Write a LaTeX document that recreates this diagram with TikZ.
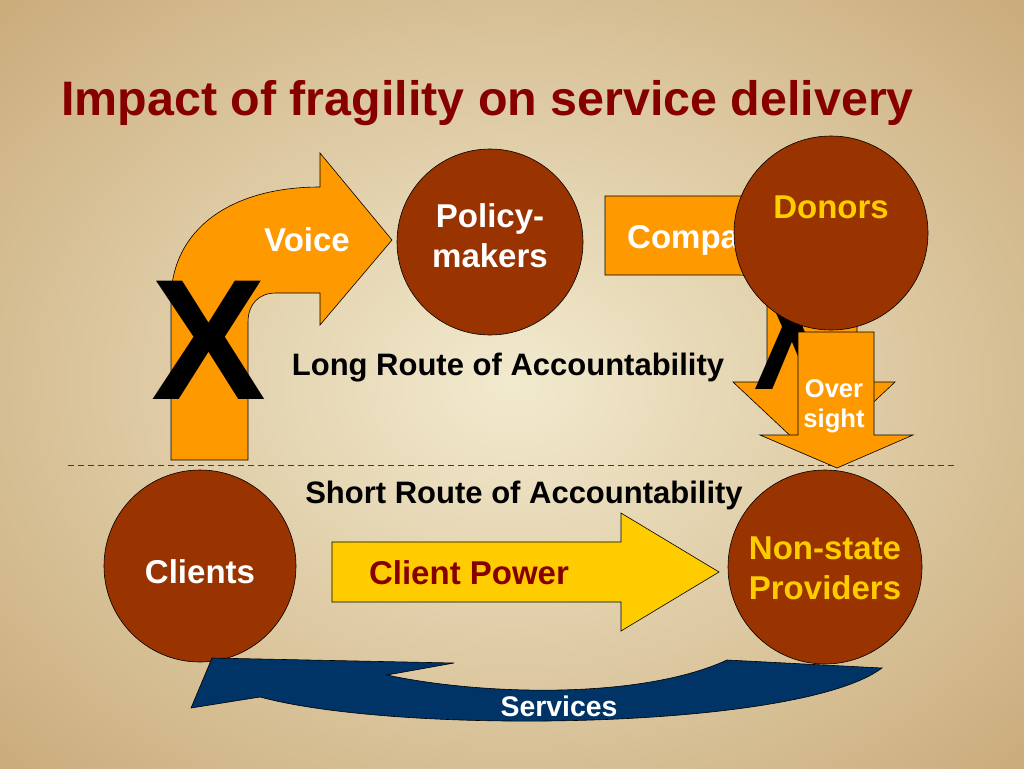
\documentclass[tikz,border=0pt]{standalone}
\usepackage{fontspec}
\setmainfont{Liberation Sans}
\definecolor{brownc}{RGB}{153,51,0}
\definecolor{orangea}{RGB}{255,153,0}
\definecolor{yellowa}{RGB}{255,204,0}
\definecolor{bluea}{RGB}{0,51,102}
\definecolor{titlered}{RGB}{135,0,0}
\definecolor{bglight}{RGB}{242,234,206}
\definecolor{bgdark}{RGB}{200,168,118}
\tikzset{
  circ/.style={circle, draw=black, line width=0.6pt, fill=brownc, minimum size=#1, inner sep=0pt},
  lbl/.style={font=\bfseries\fontsize{33}{40}\selectfont, align=center, text=white, inner sep=0pt},
  shp/.style={draw=black, line width=0.6pt},
  bigx/.style={font=\bfseries\fontsize{172}{172}\selectfont, text=black, inner sep=0pt},
  route/.style={font=\bfseries\fontsize{31}{36}\selectfont, text=black, inner sep=0pt},
}
\begin{document}
\begin{tikzpicture}[x=1pt,y=-1pt]
\useasboundingbox (0,0) rectangle (1024,768);
% background
\shade[inner color=bglight, outer color=bgdark] (-250,-200) rectangle (1274,968);
% title
\node[anchor=base west, inner sep=0pt, text=titlered, font=\bfseries\fontsize{48.4}{56}\selectfont] (title) at (61,115) {Impact of fragility on service delivery};
% dashed divider
\coordinate (dl) at (68,465);
\coordinate (dr) at (955,465);
\draw[line width=0.8pt, color=black!75, dash pattern=on 6pt off 4pt] (dl) -- (dr);
% Voice bent arrow
\draw[shp, fill=orangea] (171,460) -- (171,300) .. controls (171,230) and (230,187) .. (320,187) -- (320,153) -- (392,240) -- (320,325) -- (320,293) -- (276,293) .. controls (258,293) and (248,305) .. (248,322) -- (248,460) -- cycle;
\node[lbl] (voice) at (307,240) {Voice};
\node[bigx] (xleft) at (209,340) {X};
% Policy makers
\node[circ=186pt] (policy) at (490,242) {};
\node[lbl] (policytxt) at (490,236) {Policy-\\makers};
% Compact bent arrow
\draw[shp, fill=orangea] (605,196) -- (780,196) .. controls (825,196) and (857,230) .. (857,280) -- (857,382) -- (895,382) -- (814,458) -- (733,382) -- (767,382) -- (767,300) .. controls (767,285) and (755,275) .. (740,275) -- (605,275) -- cycle;
\node[lbl, anchor=west] (compact) at (627,240) {Compact};
\node[bigx, xscale=0.66] (xright) at (792,330) {X};
% Donors
\node[circ=194pt] (donors) at (831,233) {};
\node[lbl, text=yellowa] (donorstxt) at (831,207) {Donors};
% Oversight arrow
\draw[shp, fill=orangea] (798,332) -- (874,332) -- (874,435) -- (913,435) -- (837,468) -- (760,435) -- (798,435) -- cycle;
\node[lbl, font=\bfseries\fontsize{25.6}{30}\selectfont] (oversight) at (834,406) {Over\\sight};
% route labels
\node[route] (longroute) at (508,368) {Long Route of Accountability};
\node[route] (shortroute) at (524,495) {Short Route of Accountability};
% Clients and Providers
\node[circ=192pt] (clients) at (200,566) {};
\node[lbl] (clientstxt) at (200,572) {Clients};
\node[circ=194pt] (providers) at (825,567) {};
\node[lbl, text=yellowa] (providerstxt) at (825,568) {Non-state\\Providers};
% Client power arrow
\draw[shp, fill=yellowa] (332,542) -- (621,542) -- (621,513) -- (719,572) -- (621,631) -- (621,602) -- (332,602) -- cycle;
\node[lbl, text=titlered] (clientpower) at (469,573) {Client Power};
% Services curved arrow
\draw[shp, fill=bluea] (191,708) -- (212,658) -- (454,663) -- (387,675) .. controls (480,695) and (640,700) .. (727,660) -- (882,668) .. controls (800,730) and (400,735) .. (260,697) -- cycle;
\node[lbl, font=\bfseries\fontsize{28.4}{34}\selectfont] (services) at (559,706) {Services};
\end{tikzpicture}
\end{document}
